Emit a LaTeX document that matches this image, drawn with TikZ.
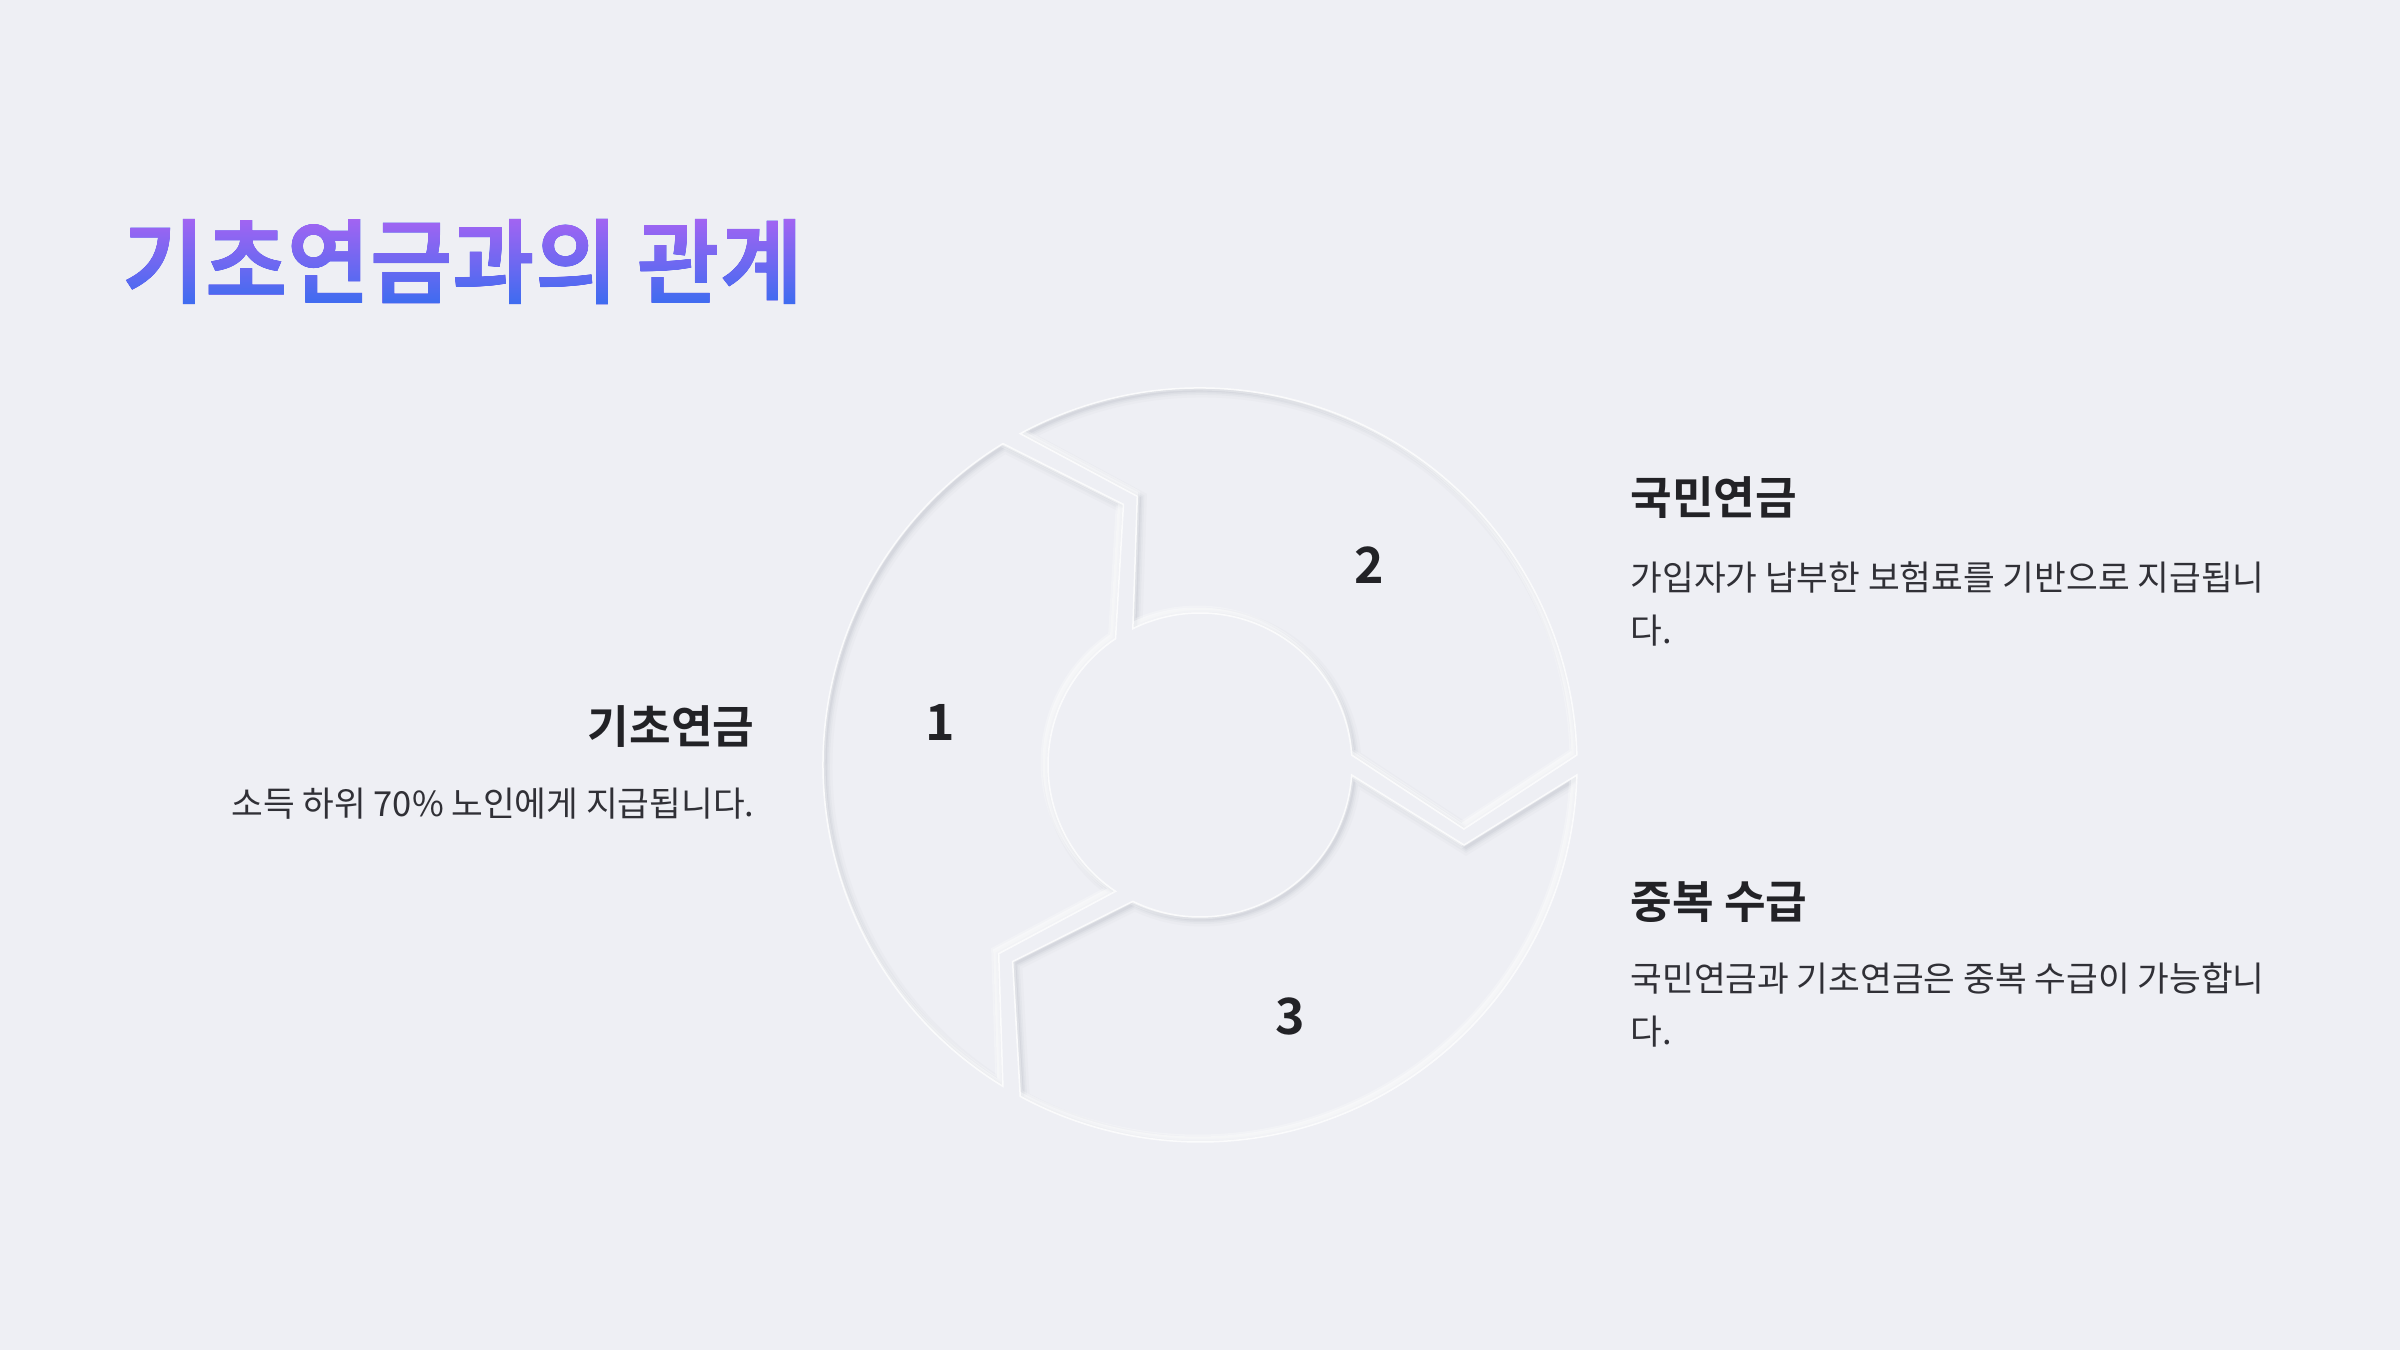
\documentclass[tikz,border=0pt]{standalone}
\usepackage{fontspec}
\newfontfamily\krreg{Noto Sans CJK KR}
\newfontfamily\krtitle[FakeStretch=0.975]{Noto Sans CJK KR Bold}
\newfontfamily\krhead{Noto Sans CJK KR Bold}
\newfontfamily\krnum{Noto Sans CJK KR Bold}
\definecolor{bg}{RGB}{238,239,244}
\definecolor{shadowcol}{RGB}{170,173,188}
\definecolor{headcol}{RGB}{34,34,38}
\definecolor{bodycol}{RGB}{48,48,54}
\definecolor{titletop}{RGB}{162,100,242}
\definecolor{titlebot}{RGB}{60,108,240}
\newcommand\segpath[1]{({118.48+#1}:377) arc[start angle={118.48+#1}, end angle={1.52+#1}, radius=377] -- ({-13.63+#1}:271.6) -- ({3.77+#1}:152) arc[start angle={3.77+#1}, end angle={116.23+#1}, radius=152] -- ({103.14+#1}:275.9) -- cycle}
\tikzset{
  titletext/.style={font=\krtitle\fontsize{36.8pt}{44pt}\selectfont, inner sep=0pt},
  headtext/.style={font=\krhead\fontsize{18.1pt}{22pt}\selectfont, text=headcol, inner sep=0pt},
  bodytext/.style={font=\krreg\fontsize{13.8pt}{21.2pt}\selectfont, text=bodycol, inner sep=0pt},
  numtext/.style={font=\krnum\fontsize{20pt}{24pt}\selectfont, text=headcol, inner sep=0pt},
}
\begin{document}
\begin{tikzpicture}[x=0.4pt, y=-0.4pt]
\useasboundingbox (0,0) rectangle (2400,1350);
\fill[bg] (0,0) rectangle (2400,1350);

% title with vertical gradient (black text lightened by the gradient)
\node[titletext, text=black, anchor=west] (title) at (122,262) {기초연금과의 관계};
\begin{scope}[blend mode=lighten]
  \fill[top color=titletop, bottom color=titlebot] (title.south west) rectangle (title.north east);
\end{scope}

% ring
\begin{scope}[shift={(1200,765)}, x=0.4pt, y=0.4pt]
  \foreach \r in {0,120,240} {
    \fill[bg] \segpath{\r};
    \begin{scope}
      \clip \segpath{\r};
      \draw[shadowcol, line width=6pt, opacity=0.06, shift={(2,-2)}] \segpath{\r};
      \draw[shadowcol, line width=4pt, opacity=0.08, shift={(2,-2)}] \segpath{\r};
      \draw[shadowcol, line width=2.6pt, opacity=0.11, shift={(2,-2)}] \segpath{\r};
      \draw[shadowcol, line width=1.4pt, opacity=0.15, shift={(2,-2)}] \segpath{\r};
      \draw[white, line width=4pt, opacity=0.25, shift={(-2.5,2.5)}] \segpath{\r};
      \draw[white, line width=2.4pt, opacity=0.4, shift={(-2.5,2.5)}] \segpath{\r};
    \end{scope}
    \draw[white, line width=0.6pt, opacity=0.8] \segpath{\r};
  }
  \node[numtext] (n1) at ([yshift=-1.2pt]170:264) {1};
  \node[numtext] (n2) at ([yshift=-0.8pt]50:264) {2};
  \node[numtext] (n3) at ([yshift=-1.2pt]-70:264) {3};
\end{scope}

% left item
\node[headtext, anchor=east] (h1) at (755,727) {기초연금};
\node[bodytext, anchor=east] (b1) at (755,804) {소득 하위 70\% 노인에게 지급됩니다.};

% right items
\node[headtext, anchor=west] (h2) at (1630,498) {국민연금};
\node[bodytext, anchor=north west, align=left] (b2) at (1630,561) {가입자가 납부한 보험료를 기반으로 지급됩니\\다.};
\node[headtext, anchor=west] (h3) at (1630,902) {중복 수급};
\node[bodytext, anchor=north west, align=left] (b3) at (1630,962) {국민연금과 기초연금은 중복 수급이 가능합니\\다.};
\end{tikzpicture}
\end{document}
